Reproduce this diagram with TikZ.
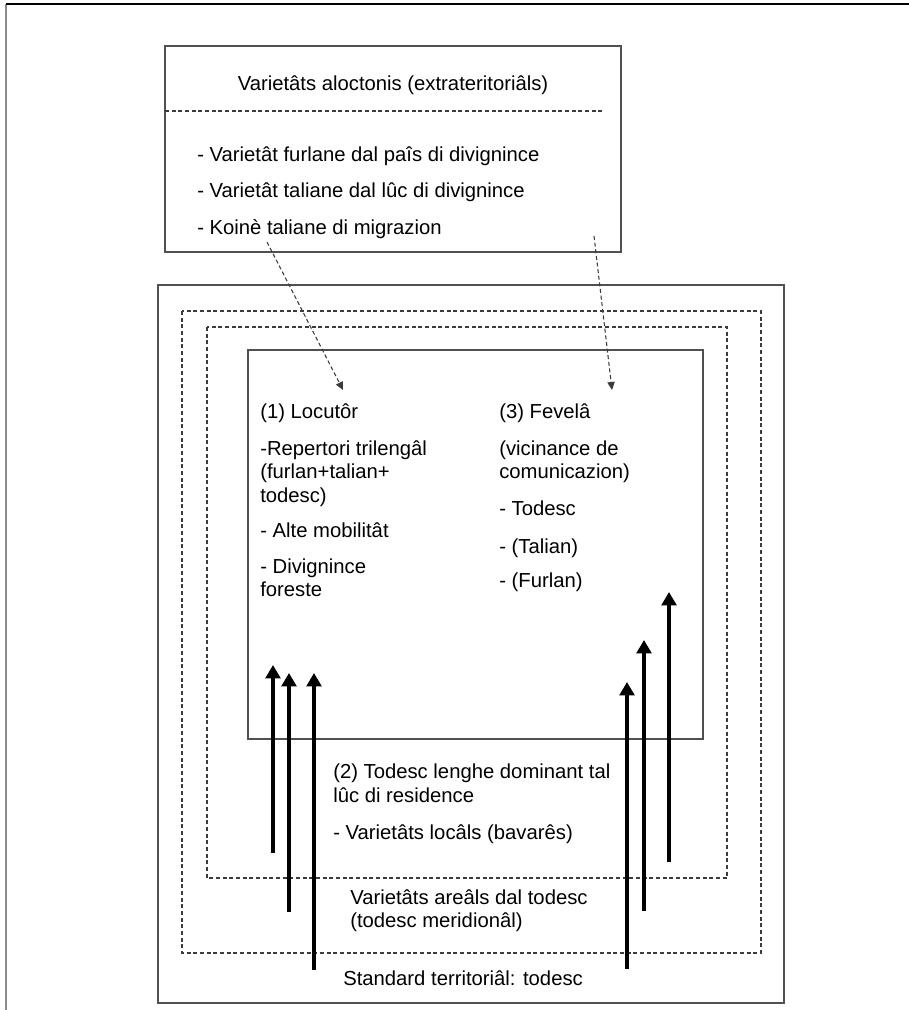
\documentclass[tikz,border=0pt]{standalone}
\usepackage{fontspec}
\setmainfont{Liberation Sans}
\usetikzlibrary{arrows.meta,positioning}
\definecolor{linegray}{HTML}{505050}
\definecolor{dashgray}{HTML}{3C3C3C}
\definecolor{pagegray}{HTML}{8A8A8A}

\begin{document}
\begin{tikzpicture}[x=0.75pt, y=-0.75pt,
  frame/.style={draw=linegray, line width=1.1pt},
  zone/.style={draw=dashgray, line width=0.8pt, dash pattern=on 3pt off 2pt},
  txt/.style={inner sep=0pt, anchor=north west, align=left,
              font=\fontsize{15.2}{17.6}\selectfont},
  title/.style={txt, anchor=center, align=center},
  push/.style={-{Triangle[length=10pt,width=11pt]}, line width=2.5pt},
  link/.style={-{Triangle[length=6pt,width=5.5pt]}, draw=dashgray,
               line width=0.8pt, dash pattern=on 3pt off 2pt},
]
  \useasboundingbox (0,0) rectangle (909,1010);

  % Page edge.
  \draw[pagegray, line width=1.6pt] (6,1010) -- (6,4);
  \draw[black, line width=1.2pt] (6,4) -- (909,4);

  % Extraterritorial varieties.
  \draw[frame] (165,46) rectangle (621,252);
  \draw[zone] (165,111) -- (604,111);
  \node[title] (alo-title) at (393,85) {Varietâts aloctonis (extrateritoriâls)};
  \node[txt] (alo-list) at (197,146)
    {- Varietât furlane dal paîs di divignince\\[10pt]
     - Varietât taliane dal lûc di divignince\\[10pt]
     - Koinè taliane di migrazion};

  % Nested territorial layers.
  \draw[frame] (158,285) rectangle (784,1003);
  \draw[zone] (182,311) rectangle (761,953);
  \draw[zone] (207,327) rectangle (727,878);
  \draw[frame] (248,350) rectangle (703,739);

  % Speaker and conversation partner.
  \node[txt] (speaker) at (260,403)
    {(1) Locutôr\\[10.5pt]
     -Repertori trilengâl\\
     (furlan+talian+\\
     todesc)\\[9pt]
     - Alte mobilitât\\[9pt]
     - Divignince\\
     foreste};
  \node[txt] (partner) at (499,403)
    {(3) Fevelâ\\[10.5pt]
     (vicinance de\\
     comunicazion)\\[10pt]
     - Todesc\\[10.5pt]
     - (Talian)\\[8pt]
     - (Furlan)};

  % Outer layers.
  \node[txt] (dominant) at (333,764)
    {(2) Todesc lenghe dominant tal\\
     lûc di residence\\[10pt]
     - Varietâts locâls (bavarês)};
  \node[txt] (areal) at (350,889)
    {Varietâts areâls dal todesc\\
     (todesc meridionâl)};
  \node[txt] (standard) at (343,970) {Standard territoriâl: todesc};

  % Influence of the imported varieties.
  \coordinate (koine-out) at (267,242);
  \coordinate (speaker-in) at (343,390);
  \coordinate (alo-out) at (594,236);
  \coordinate (partner-in) at (612,390);
  \draw[link] (koine-out) -- (speaker-in);
  \draw[link] (alo-out) -- (partner-in);

  % Pressure from the territorial layers.
  \foreach \i/\ax/\ay/\by in {1/273/853/665, 2/289/912/673, 3/314/970/673,
                              4/627/969/682, 5/644/911/640, 6/669/862/592} {
    \coordinate (up-\i-s) at (\ax,\ay);
    \coordinate (up-\i-e) at (\ax,\by);
    \draw[push] (up-\i-s) -- (up-\i-e);
  }
\end{tikzpicture}
\end{document}
